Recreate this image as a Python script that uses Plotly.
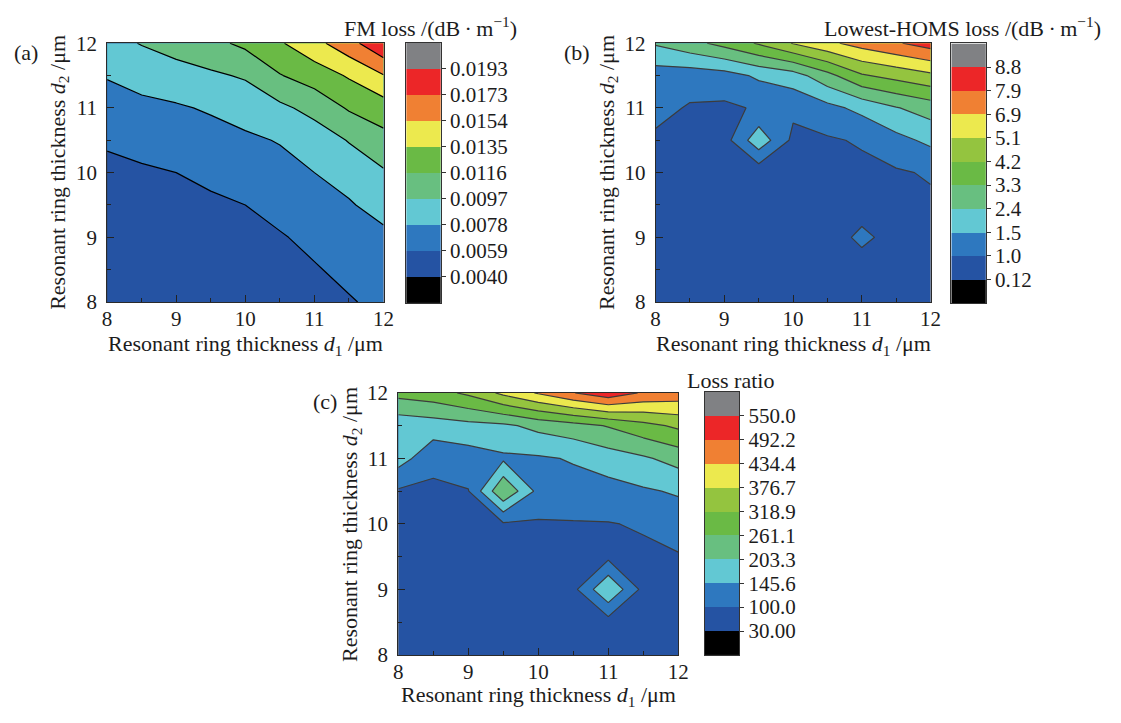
import numpy as np
import plotly.graph_objects as go

W, H = 1121, 723

# grid (µm)
d1_vals = [8.0, 8.5, 9.0, 9.5, 10.0, 10.5, 11.0, 11.5, 12.0]
d2_vals = [8.0, 8.5, 9.0, 9.5, 10.0, 10.5, 11.0, 11.5, 12.0]

# (a) FM loss (dB/m), rows = d2 from 8 to 12, columns = d1 from 8 to 12
fm_loss = [
    [0.0045, 0.0046, 0.0047, 0.0048, 0.0050, 0.0052, 0.0055, 0.0058, 0.0062],
    [0.0046, 0.0047, 0.0048, 0.0050, 0.0052, 0.0055, 0.0058, 0.0062, 0.0066],
    [0.0048, 0.0049, 0.0051, 0.0053, 0.0056, 0.0058, 0.0062, 0.0067, 0.0073],
    [0.0051, 0.0052, 0.0054, 0.0056, 0.0059, 0.0063, 0.0068, 0.0076, 0.0086],
    [0.0055, 0.0057, 0.0059, 0.0063, 0.0067, 0.0072, 0.0078, 0.0086, 0.0095],
    [0.0061, 0.0064, 0.0067, 0.0071, 0.0075, 0.0079, 0.0087, 0.0098, 0.0110],
    [0.0071, 0.0074, 0.0076, 0.0080, 0.0085, 0.0093, 0.0103, 0.0118, 0.0126],
    [0.0079, 0.0084, 0.0089, 0.0094, 0.0099, 0.0115, 0.0125, 0.0137, 0.0153],
    [0.0090, 0.0098, 0.0105, 0.0111, 0.0120, 0.0133, 0.0148, 0.0166, 0.0190],
]

# (b) lowest-HOMS loss (dB/m)
homs_loss = [
    [0.50, 0.50, 0.48, 0.47, 0.50, 0.54, 0.58, 0.60, 0.62],
    [0.55, 0.54, 0.52, 0.50, 0.52, 0.56, 0.62, 0.65, 0.66],
    [0.60, 0.58, 0.55, 0.52, 0.55, 0.60, 1.10, 0.70, 0.72],
    [0.65, 0.62, 0.58, 0.55, 0.55, 0.60, 0.65, 0.75, 0.85],
    [0.70, 0.70, 0.60, 0.45, 0.60, 0.70, 0.80, 0.90, 1.05],
    [0.85, 0.80, 0.65, 2.10, 0.80, 0.90, 1.05, 1.35, 1.70],
    [1.15, 0.92, 0.85, 1.05, 1.10, 1.35, 1.75, 2.35, 2.80],
    [1.25, 1.23, 1.30, 1.65, 2.00, 3.00, 4.10, 4.50, 4.90],
    [2.50, 3.00, 3.60, 4.30, 5.20, 6.50, 7.30, 7.80, 8.30],
]

# (c) loss ratio
loss_ratio = [
    [48, 50, 50, 55, 58, 60, 62, 64, 65],
    [50, 50, 52, 56, 60, 65, 72, 70, 75],
    [55, 54, 55, 58, 65, 82, 200, 80, 82],
    [60, 58, 57, 65, 75, 85, 84, 88, 95],
    [70, 65, 62, 92, 92, 95, 97, 104, 120],
    [92, 85, 97, 258, 132, 130, 128, 140, 152],
    [170, 115, 125, 138, 140, 150, 175, 195, 225],
    [165, 175, 185, 192, 220, 240, 265, 300, 330],
    [280, 295, 330, 390, 440, 490, 530, 485, 470],
]

fm_levels = [0.0040, 0.0059, 0.0078, 0.0097, 0.0116, 0.0135, 0.0154, 0.0173, 0.0193]
fm_labels = ["0.0040", "0.0059", "0.0078", "0.0097", "0.0116", "0.0135", "0.0154", "0.0173", "0.0193"]
homs_levels = [0.12, 1.0, 1.5, 2.4, 3.3, 4.2, 5.1, 6.9, 7.9, 8.8]
homs_labels = ["0.12", "1.0", "1.5", "2.4", "3.3", "4.2", "5.1", "6.9", "7.9", "8.8"]
ratio_levels = [30.0, 100.0, 145.6, 203.3, 261.1, 318.9, 376.7, 434.4, 492.2, 550.0]
ratio_labels = ["30.00", "100.0", "145.6", "203.3", "261.1", "318.9", "376.7", "434.4", "492.2", "550.0"]

BLACK = "#000000"
DBLUE = "#2553a3"
BLUE = "#2e78bf"
CYAN = "#62c8d3"
LGREEN = "#68bf80"
GREEN = "#6aba45"
YGREEN = "#94c43f"
YELLOW = "#ece94e"
ORANGE = "#f08033"
RED = "#ec2628"
GRAY = "#808184"
colors_a = [BLACK, DBLUE, BLUE, CYAN, LGREEN, GREEN, YELLOW, ORANGE, RED, GRAY]
colors_bc = [BLACK, DBLUE, BLUE, CYAN, LGREEN, GREEN, YGREEN, YELLOW, ORANGE, RED, GRAY]

FONT = "Liberation Serif, Times New Roman, serif"
TXT = "#1c1c1c"
FS_TICK = 21
FS_TITLE = 22
UNIT = "/(dB\u2009·\u2009m<sup>−1</sup>)"


def fx(p):
    return p / W


def fy(p):
    return 1 - p / H


panels = [
    dict(z=fm_loss, levels=fm_levels, labels=fm_labels, colors=colors_a,
         plot=(103.6, 384.0, 32.3, 300.0), cbar=(407.0, 442.0, 32.0, 301.0), line="#000000",
         title="FM loss " + UNIT, title_pos=(521, 15, "right"),
         tag="(a)", tag_pos=(7, 42), ytitle_x=54, xtitle_y=344),
    dict(z=homs_loss, levels=homs_levels, labels=homs_labels, colors=colors_bc,
         plot=(660.0, 939.0, 32.3, 300.0), cbar=(960.0, 995.0, 32.5, 301.0), line="#3c3c3c",
         title="Lowest-HOMS loss " + UNIT, title_pos=(1114, 15, "right"),
         tag="(b)", tag_pos=(565, 42), ytitle_x=611, xtitle_y=344),
    dict(z=loss_ratio, levels=ratio_levels, labels=ratio_labels, colors=colors_bc,
         plot=(399.0, 683.0, 394.0, 665.0), cbar=(710.0, 745.0, 393.0, 665.0), line="#3c3c3c",
         title="Loss ratio", title_pos=(736, 381, "center"),
         tag="(c)", tag_pos=(310, 403), ytitle_x=351, xtitle_y=708),
]

fig = go.Figure()
layout = {}
annotations = []

for i, p in enumerate(panels):
    n = len(p["levels"])
    cols = p["colors"]
    cscale = [[k / n, cols[k]] for k in range(n + 1)]
    zi = np.interp(np.array(p["z"], dtype=float), p["levels"], np.arange(n))

    ia, ib = 2 * i + 1, 2 * i + 2
    xa = "x" if ia == 1 else f"x{ia}"
    ya = "y" if ia == 1 else f"y{ia}"
    xb, yb = f"x{ib}", f"y{ib}"

    fig.add_trace(go.Contour(
        x=d1_vals, y=d2_vals, z=zi, autocontour=False,
        contours=dict(start=0, end=n - 1, size=1, coloring="fill", showlines=True),
        line=dict(color=p["line"], width=1.2, smoothing=0),
        colorscale=cscale, showscale=False, hoverinfo="skip",
        xaxis=xa, yaxis=ya))

    # discrete colour bar drawn as a heatmap on its own axes
    fig.add_trace(go.Heatmap(
        x=[0], y=[k + 0.5 for k in range(n + 1)], z=[[k] for k in range(n + 1)],
        colorscale=cscale, zmin=0, zmax=n, showscale=False, hoverinfo="skip",
        xaxis=xb, yaxis=yb))

    x0, x1, y0, y1 = p["plot"]
    tickfont = dict(family=FONT, size=FS_TICK, color=TXT)
    common = dict(range=[8, 12], tickvals=[8, 9, 10, 11, 12], ticks="inside", ticklen=7,
                  tickwidth=1, tickcolor="#222",
                  minor=dict(tick0=8, dtick=0.5, ticks="inside", ticklen=4, tickwidth=1,
                             tickcolor="#222", showgrid=False),
                  showline=True, mirror=True, linecolor="#2a2a2a", linewidth=1,
                  showgrid=False, zeroline=False, tickfont=tickfont)
    layout["xaxis" if ia == 1 else f"xaxis{ia}"] = dict(
        domain=[fx(x0), fx(x1)], anchor=ya, ticklabelstandoff=-2, **common)
    layout["yaxis" if ia == 1 else f"yaxis{ia}"] = dict(
        domain=[fy(y1), fy(y0)], anchor=xa, ticklabelstandoff=5, **common)

    c0, c1, cy0, cy1 = p["cbar"]
    layout[f"xaxis{ib}"] = dict(
        domain=[fx(c0), fx(c1)], range=[-0.5, 0.5], anchor=yb,
        showticklabels=False, ticks="", showline=True, mirror=True,
        linecolor="#333", linewidth=1, showgrid=False, zeroline=False, fixedrange=True)
    layout[f"yaxis{ib}"] = dict(
        domain=[fy(cy1), fy(cy0)], range=[0, n + 1], anchor=xb, side="right",
        tickvals=list(range(1, n + 1)), ticktext=p["labels"],
        ticks="outside", ticklen=4, tickcolor="#333",
        showline=True, mirror=True, linecolor="#333", linewidth=1,
        showgrid=False, zeroline=False, tickfont=tickfont, fixedrange=True)

    # texts
    tx, ty, tanchor = p["title_pos"]
    tfont = dict(family=FONT, size=FS_TITLE, color=TXT)
    annotations.append(dict(text=p["title"], x=fx(tx), y=fy(ty), xref="paper", yref="paper",
                            xanchor=tanchor, yanchor="middle", showarrow=False, font=tfont))
    annotations.append(dict(text=p["tag"], x=fx(p["tag_pos"][0]), y=fy(p["tag_pos"][1]),
                            xref="paper", yref="paper", xanchor="left", yanchor="middle",
                            showarrow=False, font=tfont))
    annotations.append(dict(text="Resonant ring thickness <i>d</i><sub>1</sub> /μm",
                            x=fx((x0 + x1) / 2), y=fy(p["xtitle_y"]), xref="paper", yref="paper",
                            xanchor="center", yanchor="middle", showarrow=False, font=tfont))
    annotations.append(dict(text="Resonant ring thickness <i>d</i><sub>2</sub> /μm",
                            x=fx(p["ytitle_x"]), y=fy((y0 + y1) / 2), xref="paper", yref="paper",
                            xanchor="center", yanchor="middle", textangle=-90, showarrow=False,
                            font=tfont))

fig.update_layout(
    width=W, height=H, autosize=False,
    margin=dict(l=0, r=0, t=0, b=0),
    paper_bgcolor="white", plot_bgcolor="white",
    showlegend=False, annotations=annotations,
    font=dict(family=FONT, size=FS_TICK, color=TXT),
    **layout)

fig.write_html("out.html")
